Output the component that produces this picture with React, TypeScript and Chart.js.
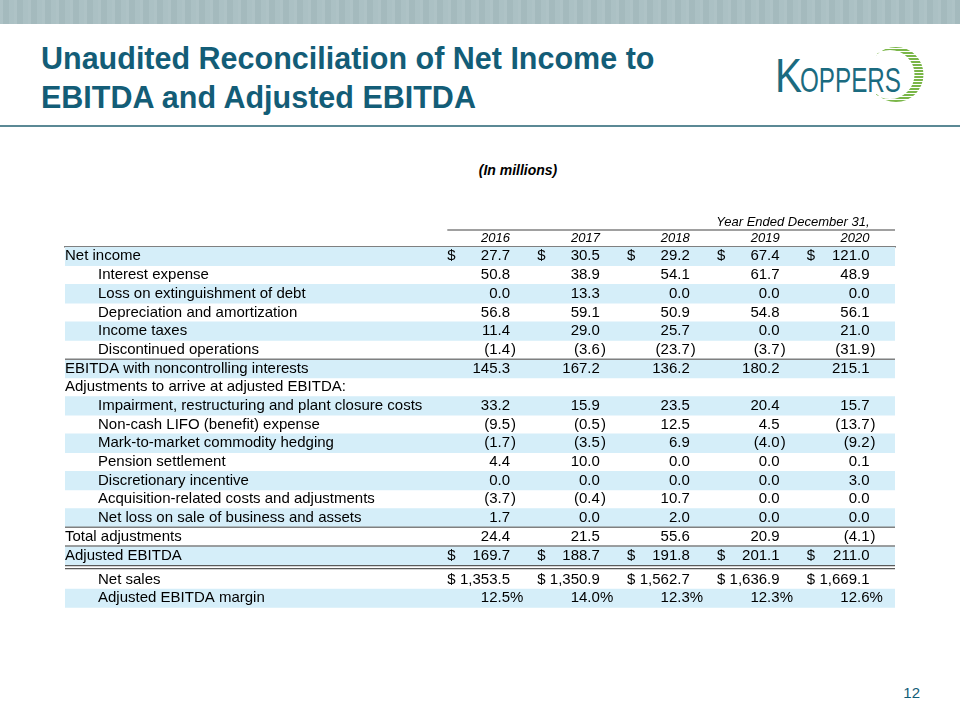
import React, { useEffect, useRef } from 'react';
import { Chart, registerables } from 'chart.js';

Chart.register(...registerables);

// ---------- data ----------
const years = ['2016', '2017', '2018', '2019', '2020'];

const rowLabels = [
  'Net income',
  'Interest expense',
  'Loss on extinguishment of debt',
  'Depreciation and amortization',
  'Income taxes',
  'Discontinued operations',
  'EBITDA with noncontrolling interests',
  'Adjustments to arrive at adjusted EBITDA:',
  'Impairment, restructuring and plant closure costs',
  'Non-cash LIFO (benefit) expense',
  'Mark-to-market commodity hedging',
  'Pension settlement',
  'Discretionary incentive',
  'Acquisition-related costs and adjustments',
  'Net loss on sale of business and assets',
  'Total adjustments',
  'Adjusted EBITDA',
  'Net sales',
  'Adjusted EBITDA margin',
];

const indentedRows = [1, 2, 3, 4, 5, 8, 9, 10, 11, 12, 13, 14, 17, 18];
const dollarRows = [0, 16, 17];
const percentRows = [18];
const singleRuleAfter = [5, 14, 15];
const doubleRuleAfter = [16];

const v2016 = [27.7, 50.8, 0.0, 56.8, 11.4, -1.4, 145.3, null, 33.2, -9.5, -1.7, 4.4, 0.0, -3.7, 1.7, 24.4, 169.7, 1353.5, 12.5];
const v2017 = [30.5, 38.9, 13.3, 59.1, 29.0, -3.6, 167.2, null, 15.9, -0.5, -3.5, 10.0, 0.0, -0.4, 0.0, 21.5, 188.7, 1350.9, 14.0];
const v2018 = [29.2, 54.1, 0.0, 50.9, 25.7, -23.7, 136.2, null, 23.5, 12.5, 6.9, 0.0, 0.0, 10.7, 2.0, 55.6, 191.8, 1562.7, 12.3];
const v2019 = [67.4, 61.7, 0.0, 54.8, 0.0, -3.7, 180.2, null, 20.4, 4.5, -4.0, 0.0, 0.0, 0.0, 0.0, 20.9, 201.1, 1636.9, 12.3];
const v2020 = [121.0, 48.9, 0.0, 56.1, 21.0, -31.9, 215.1, null, 15.7, -13.7, -9.2, 0.1, 3.0, 0.0, 0.0, -4.1, 211.0, 1669.1, 12.6];

const series = [v2016, v2017, v2018, v2019, v2020];

// ---------- layout / style ----------
const FONT = "'Liberation Sans', Arial, Helvetica, sans-serif";
const TEAL = '#135d77';
const BAND = '#d5eef9';
const RULE = '#808080';
const X_MIN = -4.9513; // chart-area left in column units
const X_MAX = 4.2837; // chart-area right in column units
const DOLLAR_OFFSET = 0.6976; // "$" sits this many column units left of the value edge
const SECTION_GAP = 0.3; // extra space after the double rule
const Y_MAX = rowLabels.length + SECTION_GAP;

const rowCenter = (i: number) => i + 0.5 + (i > doubleRuleAfter[0] ? SECTION_GAP : 0);
const rowBottom = (i: number) => i + 1;

const fmt = (v: number) =>
  Math.abs(v).toLocaleString('en-US', { minimumFractionDigits: 1, maximumFractionDigits: 1 });

const tablePlugin = {
  id: 'tableText',
  afterDatasetsDraw(chart: any) {
    const { ctx, scales } = chart;
    const x = scales.x;
    const y = scales.y;
    ctx.save();

    // header: "Year Ended December 31," and the rule above the years
    const top = chart.chartArea.top;
    ctx.fillStyle = '#000';
    ctx.textBaseline = 'middle';
    ctx.font = `italic 13px ${FONT}`;
    ctx.textAlign = 'right';
    ctx.fillText('Year Ended December 31,', x.getPixelForValue(years.length - 1), top - 25);

    ctx.strokeStyle = RULE;
    ctx.lineWidth = 1.5;
    ctx.beginPath();
    ctx.moveTo(x.getPixelForValue(-DOLLAR_OFFSET), top - 17);
    ctx.lineTo(x.right, top - 17);
    ctx.stroke();

    // rules between rows
    singleRuleAfter.forEach((r) => {
      const py = y.getPixelForValue(rowBottom(r));
      ctx.beginPath();
      ctx.moveTo(x.left, py);
      ctx.lineTo(x.right, py);
      ctx.stroke();
    });
    ctx.strokeStyle = '#5a5a5a';
    ctx.lineWidth = 1.3;
    doubleRuleAfter.forEach((r) => {
      const py = y.getPixelForValue(rowBottom(r));
      [1, 4].forEach((d) => {
        ctx.beginPath();
        ctx.moveTo(x.left, py + d);
        ctx.lineTo(x.right, py + d);
        ctx.stroke();
      });
    });

    // cells
    ctx.font = `15px ${FONT}`;
    ctx.fillStyle = '#000';
    rowLabels.forEach((label, i) => {
      const py = y.getPixelForValue(rowCenter(i));
      ctx.textAlign = 'left';
      ctx.fillText(label, indentedRows.includes(i) ? x.left + 33 : x.left, py);
      series.forEach((vals, j) => {
        const v = vals[i];
        if (v === null || v === undefined) return;
        const edge = x.getPixelForValue(j);
        ctx.textAlign = 'right';
        ctx.fillText(v < 0 ? '(' + fmt(v) : fmt(v), edge, py);
        ctx.textAlign = 'left';
        if (v < 0) ctx.fillText(')', edge + 1, py);
        if (percentRows.includes(i)) ctx.fillText('%', edge, py);
        if (dollarRows.includes(i)) ctx.fillText('$', x.getPixelForValue(j - DOLLAR_OFFSET), py);
      });
    });
    ctx.restore();
  },
};

function Logo() {
  return (
    <svg
      width={180}
      height={70}
      viewBox="0 0 180 70"
      style={{ position: 'absolute', left: 760, top: 40 }}
    >
      <defs>
        <pattern id="stripes" width="4" height="3" patternUnits="userSpaceOnUse">
          <rect width="4" height="2" fill="#7ab648" />
        </pattern>
        <clipPath id="arcClip">
          <rect x="116" y="0" width="64" height="70" />
        </clipPath>
      </defs>
      <path
        d="M163.5,34.5 A27.5,27.5 0 1,1 108.5,34.5 A27.5,27.5 0 1,1 163.5,34.5 Z M154.5,34.5 A24.5,24.5 0 1,0 105.5,34.5 A24.5,24.5 0 1,0 154.5,34.5 Z"
        fill="url(#stripes)"
        fillRule="evenodd"
        clipPath="url(#arcClip)"
      />
      <text
        x={15}
        y={52}
        fontFamily={FONT}
        fontSize={48}
        fill="#1b6b80"
        textLength={27}
        lengthAdjust="spacingAndGlyphs"
      >
        K
      </text>
      <text
        x={40}
        y={52}
        fontFamily={FONT}
        fontSize={35}
        fill="#1b6b80"
        textLength={101}
        lengthAdjust="spacingAndGlyphs"
      >
        OPPERS
      </text>
    </svg>
  );
}

export default function App() {
  const ref = useRef<HTMLCanvasElement>(null);

  useEffect(() => {
    if (!ref.current) return;
    const chart = new Chart(ref.current, {
      type: 'bar',
      data: {
        datasets: [
          {
            label: 'band',
            data: rowLabels.map((_, i) => ({ x: [X_MIN, X_MAX], y: rowCenter(i) })) as any,
            backgroundColor: rowLabels.map((_, i) => (i % 2 === 0 ? BAND : 'rgba(0,0,0,0)')),
            borderWidth: 0,
            borderSkipped: false,
            barPercentage: 1,
            categoryPercentage: 1,
          },
        ],
      },
      options: {
        indexAxis: 'y',
        responsive: false,
        animation: false,
        events: [],
        layout: { padding: { left: 65, right: 65, top: 29.4, bottom: 12.3 } },
        plugins: {
          legend: { display: false },
          tooltip: { enabled: false },
          title: { display: false },
        },
        scales: {
          x: {
            type: 'linear',
            position: 'top',
            min: X_MIN,
            max: X_MAX,
            offset: false,
            z: 1,
            grid: { display: false, drawTicks: false },
            border: { display: true, color: RULE, width: 1.5 },
            afterBuildTicks: (scale: any) => {
              scale.ticks = years.map((_, j) => ({ value: j }));
            },
            ticks: {
              align: 'end',
              padding: 1,
              maxRotation: 0,
              autoSkip: false,
              color: '#000',
              font: { family: FONT, size: 13, style: 'italic' },
              callback: (_v: any, idx: number) => years[idx],
            },
          },
          y: {
            type: 'linear',
            display: false,
            reverse: true,
            offset: false,
            min: 0,
            max: Y_MAX,
            afterBuildTicks: (scale: any) => {
              scale.ticks = rowLabels.map((_, i) => ({ value: rowCenter(i) }));
            },
          },
        },
      } as any,
      plugins: [tablePlugin],
    });
    return () => chart.destroy();
  }, []);

  return (
    <div
      style={{
        position: 'absolute',
        left: 0,
        top: 0,
        width: 960,
        height: 720,
        background: '#fff',
        overflow: 'hidden',
        fontFamily: FONT,
      }}
    >
      <div
        style={{
          position: 'absolute',
          left: 0,
          top: 0,
          width: 960,
          height: 24,
          background:
            'repeating-linear-gradient(90deg, rgba(255,255,255,0.07) 0px, rgba(255,255,255,0.07) 3px, rgba(0,0,0,0.025) 3px, rgba(0,0,0,0.025) 9px, rgba(255,255,255,0.04) 9px, rgba(255,255,255,0.04) 14px), #a8bec2',
        }}
      />
      <div
        style={{
          position: 'absolute',
          left: 41,
          top: 39,
          fontSize: 30.5,
          lineHeight: '39px',
          fontWeight: 'bold',
          color: TEAL,
          whiteSpace: 'nowrap',
        }}
      >
        Unaudited Reconciliation of Net Income to
        <br />
        EBITDA and Adjusted EBITDA
      </div>
      <Logo />
      <div
        style={{ position: 'absolute', left: 0, top: 125, width: 960, height: 2, background: '#5b8995' }}
      />
      <div
        style={{
          position: 'absolute',
          left: 418,
          top: 162,
          width: 200,
          textAlign: 'center',
          fontSize: 14,
          lineHeight: '16px',
          fontWeight: 'bold',
          fontStyle: 'italic',
          color: '#000',
        }}
      >
        (In millions)
      </div>
      <canvas ref={ref} width={960} height={420} style={{ position: 'absolute', left: 0, top: 200 }} />
      <div
        style={{
          position: 'absolute',
          left: 870,
          top: 685,
          width: 50,
          textAlign: 'right',
          fontSize: 15,
          lineHeight: '16px',
          color: TEAL,
        }}
      >
        12
      </div>
    </div>
  );
}
